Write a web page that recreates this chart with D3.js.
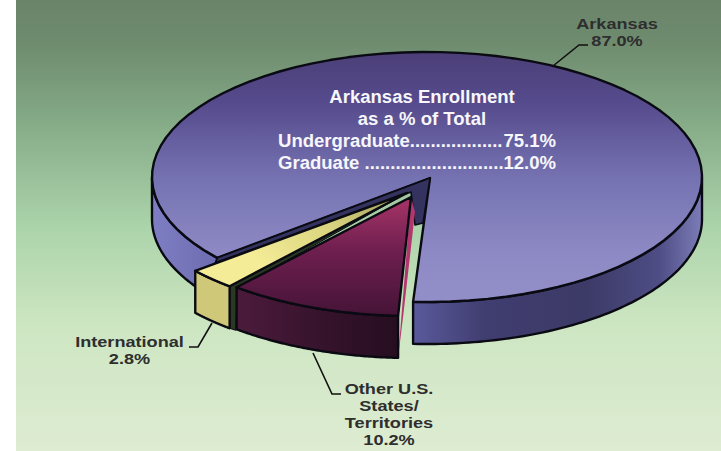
<!DOCTYPE html>
<html><head><meta charset="utf-8">
<script src="https://cdn.jsdelivr.net/npm/d3@7"></script>
<style>html,body{margin:0;padding:0;background:#fff}svg{display:block}text{font-family:"Liberation Sans",Arial,sans-serif;font-weight:700}</style>
</head><body><svg id="c" width="721" height="451"></svg>
<script>
// Data
const categories = ["Other U.S. States/Territories", "International", "Arkansas"];
const shares = [10.2, 2.8, 87.0];
const breakdownNames = ["Undergraduate..................", "Graduate ..........................."];
const breakdownValues = ["75.1%", "12.0%"];
const titleLines = ["Arkansas Enrollment", "as a % of Total"];

// Geometry of the tilted pie
const W = 721, H = 451, cx = 427, cy = 177, rx = 275, ry = 125, depth = 42;
const rad = Math.PI / 180, start = 182.9 * rad;
const pie = d3.pie().sort(null).value(d => d).startAngle(start).endAngle(start + 2 * Math.PI);
const [other, intl, ark] = pie(shares);
const pt = (t, dx = 0, dy = 0) => [cx + dx + rx * Math.sin(t), cy + dy - ry * Math.cos(t)];
const samples = (a, b, dx = 0, dy = 0) => d3.range(0, 81).map(i => pt(a + (b - a) * i / 80, dx, dy));
const line = d3.line();
const wedge = (s, tip, dx, dy) => line([tip, ...samples(s.startAngle, s.endAngle, dx, dy)]) + "Z";
const wall = (a, b, dx, dy) => {
  const top = samples(a, b, dx, dy), bot = top.slice().reverse().map(p => [p[0], p[1] + depth]);
  return line([...top, ...bot]) + "Z";
};

const svg = d3.select("#c"), defs = svg.append("defs");
function grad(id, stops, x2 = 0, y2 = 1) {
  const g = defs.append("linearGradient").attr("id", id).attr("x1", 0).attr("y1", 0).attr("x2", x2).attr("y2", y2);
  stops.forEach(([o, c]) => g.append("stop").attr("offset", o).attr("stop-color", c));
}
grad("bg", [[0, "#6a8469"], [.1, "#6f8c6f"], [.25, "#82a784"], [.5, "#abd3aa"], [.72, "#cde6c2"], [1, "#deecd2"]]);
grad("top", [[0, "#4c3f78"], [.2, "#554a8c"], [.5, "#7572b2"], [.8, "#8c89c4"], [1, "#928fc8"]]);
grad("wallR", [[0, "#5a5a9c"], [.25, "#403d70"], [.6, "#3c3a66"], [.85, "#4e4d85"], [1, "#7c7cb8"]], 1, 0);
grad("wallL", [[0, "#7e7ec4"], [1, "#6e6cb0"]], 1, 0);
grad("otherTop", [[0, "#a83468"], [.45, "#6e1f4f"], [1, "#451437"]]);
grad("otherWall", [[0, "#4c1b3c"], [.6, "#33122a"], [1, "#260e20"]], 1, 0);
grad("intlTop", [[0, "#f4ec96"], [.45, "#d8d27e"], [1, "#7f8249"]], 1, -0.4);

svg.append("rect").attr("x", 16).attr("y", 0).attr("width", W - 16).attr("height", H).attr("fill", "url(#bg)");

const ink = "#0a0a12", sw = 2.4;
const draw = (d, fill, w = sw) => svg.append("path").attr("d", d).attr("fill", fill)
  .attr("stroke", ink).attr("stroke-width", w).attr("stroke-linejoin", "round");

// Arkansas slice
const arkTip = [cx + 3, cy + 1];
draw(wall(Math.PI / 2, other.startAngle, 0, 0), "url(#wallR)");
draw(wall(ark.startAngle, 1.5 * Math.PI, 0, 0), "url(#wallL)");
draw(wedge(ark, arkTip, 0, 0), "url(#top)");
const aL = pt(ark.startAngle);
draw(line([arkTip, aL, [aL[0] - 2, aL[1] + 5], [411, 192], [415, 225], [423, 223]]) + "Z", "#34335f", 1.6);

// International cut face (dark), behind the Other slice
const iDx = -22, iDy = 13, oDx = -15, oDy = 14;
const iTip = [407, 193], oTip = [411, 197];
const iR = pt(intl.startAngle, iDx, iDy);
draw(line([iTip, iR, [iR[0], iR[1] + depth], [iR[0] + 6, iR[1] + depth + 2], [iR[0] + 8, iR[1] + 2]]) + "Z", "#2a3a22", 1);

// Other slice
const oR = pt(other.startAngle, oDx, oDy), oL = pt(other.endAngle, oDx, oDy);
svg.append("path").attr("d", line([oTip, [415, 212], [oR[0] + 5, oR[1] + 1], [oR[0], oR[1] + depth]]) + "Z").attr("fill", "#b3376f");
draw(wall(other.startAngle, other.endAngle, oDx, oDy), "url(#otherWall)");
draw(wedge(other, oTip, oDx, oDy), "url(#otherTop)");

// International slice
draw(wall(intl.startAngle, intl.endAngle, iDx, iDy), "#cfc879");
draw(wedge(intl, iTip, iDx, iDy), "url(#intlTop)");

// Leader lines
const leaders = [[[553, 66], [579, 45], [588, 45]], [[212, 323], [198, 347], [189, 347]], [[313, 353], [332, 394], [341, 394]]];
leaders.forEach(l => svg.append("path").attr("d", line(l)).attr("fill", "none").attr("stroke", "#111").attr("stroke-width", 1.6));

// Text
function label(x, y, t, size, fill, sx, anchor = "middle") {
  svg.append("text").attr("transform", `translate(${x},${y}) scale(${sx},1)`)
    .attr("text-anchor", anchor).attr("font-size", size).attr("fill", fill).text(t);
}
const dark = "#2e2e2e", ls = 15.5, lsx = 1.17;
const fmt = v => v.toFixed(1) + "%";
label(617, 29, "Arkansas", ls, dark, lsx);
label(617, 46, fmt(shares[2]), ls, dark, lsx);
label(129.5, 347, "International", ls, dark, lsx);
label(129.5, 364, fmt(shares[1]), ls, dark, lsx);
["Other U.S.", "States/", "Territories"].forEach((t, i) => label(389, 394 + 17 * i, t, ls, dark, lsx));
label(389, 445, fmt(shares[0]), ls, dark, lsx);

const white = "#f6f6fb", ms = 18, msx = 1.03;
titleLines.forEach((t, i) => label(422, 102.5 + 22.3 * i, t, ms, white, msx));
breakdownNames.forEach((t, i) => {
  label(278, 147 + 22.3 * i, t, ms, white, msx, "start");
  label(556, 147 + 22.3 * i, breakdownValues[i], ms, white, msx, "end");
});
</script></body></html>
